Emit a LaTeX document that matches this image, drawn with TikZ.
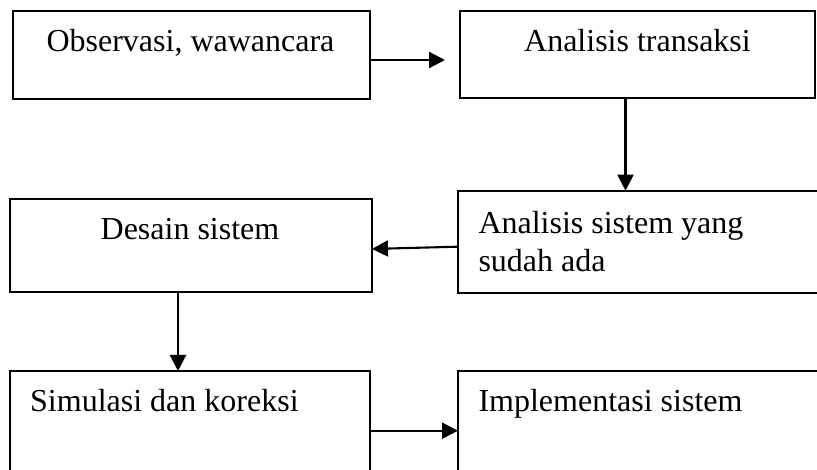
\documentclass[tikz,border=0pt]{standalone}
\usepackage{fontspec}
\setmainfont{Liberation Serif}
\usetikzlibrary{arrows.meta}
\begin{document}
\begin{tikzpicture}[x=1pt,y=-1pt,
  box/.style={draw, line width=2.1pt, rectangle, inner sep=0pt, outer sep=0pt, anchor=north west},
  lbl/.style={inner sep=0pt, font=\fontsize{32}{38}\selectfont},
  arr/.style={line width=2.1pt, -{Triangle[length=16pt,width=16pt]}}]
\useasboundingbox (0,0) rectangle (817,470);
\clip (0,0) rectangle (817,470);
\node[box, minimum width=357pt, minimum height=88.3pt] (b1) at (13.3,10.7) {};
\node[box, minimum width=355pt, minimum height=87.6pt] (b2) at (460,10.7) {};
\node[box, minimum width=362pt, minimum height=93.3pt] (b3) at (10,199) {};
\node[box, minimum width=380pt, minimum height=102pt] (b4) at (458,190.7) {};
\node[box, minimum width=360pt, minimum height=120pt] (b5) at (10,371) {};
\node[box, minimum width=380pt, minimum height=120pt] (b6) at (458,371) {};
\node[lbl, anchor=base] (t1) at (190.5,52) {Observasi, wawancara};
\node[lbl, anchor=base] (t2) at (637.5,52) {Analisis transaksi};
\node[lbl, anchor=base] (t3) at (190,240) {Desain sistem};
\node[lbl, anchor=base west] (t4a) at (478.3,233.3) {Analisis sistem yang};
\node[lbl, anchor=base west] (t4b) at (478.3,271.7) {sudah ada};
\node[lbl, anchor=base west] (t5) at (30,411.7) {Simulasi dan koreksi};
\node[lbl, anchor=base west] (t6) at (478.3,411.7) {Implementasi sistem};
\coordinate (e1) at (445,60);
\draw[arr] (b1.east |- e1) -- (e1);
\draw[arr] ([xshift=-12pt]b2.south) -- ([xshift=-12pt]b2.south |- b4.north);
\draw[arr] ([yshift=-5pt]b4.west) -- ([yshift=-3.3pt]b3.east);
\draw[arr] ([xshift=-13pt]b3.south) -- ([xshift=-13pt]b3.south |- b5.north);
\coordinate (e5) at (0,430.7);
\draw[arr] (b5.east |- e5) -- (b6.west |- e5);
\end{tikzpicture}
\end{document}
